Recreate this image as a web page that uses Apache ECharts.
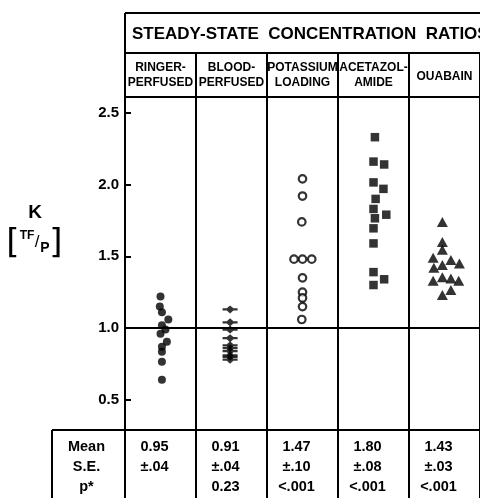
<!DOCTYPE html>
<html>
<head>
<meta charset="utf-8">
<script src="https://cdn.jsdelivr.net/npm/echarts@6/dist/echarts.min.js"></script>
<style>
html,body{margin:0;padding:0;background:#fff;}
#chart{width:480px;height:498px;}
</style>
</head>
<body>
<div id="chart"></div>
<script>
// ---- data ----
const title = 'STEADY-STATE  CONCENTRATION  RATIOS';
const categories = ['RINGER-\nPERFUSED', 'BLOOD-\nPERFUSED', 'POTASSIUM\nLOADING', 'ACETAZOL-\nAMIDE', 'OUABAIN'];
const yTicks = [0.5, 1.0, 1.5, 2.0, 2.5];

const ringerK  = [1.22, 1.15, 1.11, 1.06, 1.02, 0.99, 0.96, 0.905, 0.87, 0.835, 0.765, 0.64];
const ringerDx = [0.0, -0.01, 0.02, 0.11, 0.02, 0.07, 0.0, 0.09, 0.02, 0.02, 0.02, 0.02];

const bloodK  = [1.13, 1.04, 0.99, 0.93, 0.88, 0.86, 0.84, 0.81, 0.80, 0.78];
const bloodDx = [-0.02, -0.02, -0.02, -0.02, -0.02, -0.02, -0.02, -0.02, -0.02, -0.02];

const potassiumK  = [2.04, 1.92, 1.74, 1.48, 1.48, 1.48, 1.35, 1.25, 1.21, 1.15, 1.06];
const potassiumDx = [0.0, 0.0, -0.01, -0.12, 0.0, 0.13, 0.0, 0.0, 0.0, 0.0, -0.01];

const acetazolK  = [2.33, 2.16, 2.14, 2.015, 1.97, 1.90, 1.83, 1.79, 1.765, 1.695, 1.59, 1.39, 1.34, 1.30];
const acetazolDx = [0.02, 0.0, 0.15, 0.0, 0.14, 0.03, 0.0, 0.18, 0.02, 0.0, 0.0, 0.0, 0.15, 0.0];

const ouabainK  = [1.74, 1.60, 1.545, 1.49, 1.475, 1.45, 1.44, 1.42, 1.355, 1.345, 1.33, 1.33, 1.265, 1.23];
const ouabainDx = [-0.03, -0.03, -0.03, -0.16, 0.09, 0.21, -0.03, -0.15, -0.03, 0.09, -0.16, 0.2, 0.09, -0.03];

const meanRow = ['0.95', '0.91', '1.47', '1.80', '1.43'];
const seRow   = ['\u00b1.04', '\u00b1.04', '\u00b1.10', '\u00b1.08', '\u00b1.03'];
const pRow    = ['', '0.23', '<.001', '<.001', '<.001'];
const rowLabels = ['Mean', 'S.E.', 'p*'];

// ---- chart ----
const FONT = '"Liberation Sans", Arial, sans-serif';
const chart = echarts.init(document.getElementById('chart'), null, {renderer: 'canvas'});

function pts(vals, dx, col) {
  return vals.map((v, i) => [col - 0.5 + dx[i], v]);
}
const diamondDash = 'path://M0,3.6 L2.8,3.6 L5,0 L7.2,3.6 L10,3.6 L10,6.4 L7.2,6.4 L5,10 L2.8,6.4 L0,6.4 Z';

const option = {
  animation: false,
  backgroundColor: '#fff',
  grid: {left: 125, top: 97, width: 365, height: 333, containLabel: false},
  xAxis: {
    type: 'value', min: 0, max: 5, interval: 1,
    axisLine: {show: false}, axisTick: {show: false}, axisLabel: {show: false},
    splitLine: {show: true, lineStyle: {color: '#000', width: 2}}
  },
  yAxis: {
    type: 'value', min: 0.29, max: 2.61,
    axisLine: {show: true, lineStyle: {color: '#000', width: 2}},
    axisTick: {show: true, inside: true, length: 6, customValues: yTicks, lineStyle: {color: '#000', width: 2}},
    axisLabel: {show: true, customValues: yTicks, margin: 6, color: '#000', fontFamily: FONT, fontWeight: 'bold', fontSize: 15,
      formatter: v => v.toFixed(1)},
    splitLine: {show: false}
  },
  series: [
    {type: 'scatter', name: categories[0], data: pts(ringerK, ringerDx, 1), symbol: 'circle', symbolSize: 8,
      itemStyle: {color: '#000'},
      markLine: {silent: true, symbol: 'none', label: {show: false}, lineStyle: {color: '#000', width: 2, type: 'solid'},
        data: [{yAxis: 1.0}]}},
    {type: 'scatter', name: categories[1], data: pts(bloodK, bloodDx, 2), symbol: diamondDash, symbolSize: [15, 8],
      itemStyle: {color: '#000'}},
    {type: 'scatter', name: categories[2], data: pts(potassiumK, potassiumDx, 3), symbol: 'circle', symbolSize: 7.5,
      itemStyle: {color: '#fff', borderColor: '#000', borderWidth: 2.2}},
    {type: 'scatter', name: categories[3], data: pts(acetazolK, acetazolDx, 4), symbol: 'rect', symbolSize: 8.5,
      itemStyle: {color: '#000'}},
    {type: 'scatter', name: categories[4], data: pts(ouabainK, ouabainDx, 5), symbol: 'triangle', symbolSize: [11, 10],
      itemStyle: {color: '#000'}}
  ]
};
chart.setOption(option);

// ---- decorations (header box, y name, table) positioned from axis scale ----
const px = v => chart.convertToPixel({xAxisIndex: 0}, v);
const py = v => chart.convertToPixel({yAxisIndex: 0}, v);
const xL = px(0), xR = px(5);
const yTop = py(2.61), yBot = py(0.29);
const headTop = 13, headMid = 53, tableLeft = 52, pageBottom = 498;
const LW = 2;
const g = [];
function line(x1, y1, x2, y2) {
  g.push({type: 'line', shape: {x1, y1, x2, y2}, style: {stroke: '#000', lineWidth: LW}, silent: true});
}
function text(t, x, y, size, align, opts) {
  g.push({type: 'text', x, y, silent: true,
    style: Object.assign({text: t, fill: '#000', font: 'bold ' + size + 'px ' + FONT, align: align || 'center', verticalAlign: 'middle'}, opts || {})});
}
// header box
line(xL, headTop, xR, headTop);
line(xL, headMid, xR, headMid);
line(xL, yTop, xR, yTop);
line(xL, headTop, xL, yTop);
for (let i = 1; i <= 5; i++) line(px(i), headMid, px(i), yTop);
text(title, xL + 7, (headTop + headMid) / 2 + 1, 17, 'left');
categories.forEach((c, i) => {
  const cx = px(i + 0.5);
  const parts = c.split('\n');
  if (parts.length === 2) {
    text(parts[0], cx, 68, 12, 'center');
    text(parts[1], cx, 83, 12, 'center');
  } else {
    text(parts[0], cx, 77, 12, 'center');
  }
});
// table
line(tableLeft, yBot, xR, yBot);
line(tableLeft, yBot, tableLeft, pageBottom);
line(xL, yBot, xL, pageBottom);
for (let i = 1; i <= 5; i++) line(px(i), yBot, px(i), pageBottom);
const rowY = [447, 467, 487];
rowLabels.forEach((r, k) => text(r, (tableLeft + xL) / 2 - 2, rowY[k], 14.5, 'center'));
[meanRow, seRow, pRow].forEach((row, k) => {
  row.forEach((t, i) => { if (t) text(t, px(i + 0.5) - 6, rowY[k], 14.5, 'center'); });
});
// y axis name
text('K', 35, 213, 19, 'center');
text('[', 13, 244, 34, 'center', {font: 'normal 34px "DejaVu Sans", sans-serif'});
text(']', 56, 244, 34, 'center', {font: 'normal 34px "DejaVu Sans", sans-serif'});
text('TF', 27, 236, 12, 'center');
text('/', 37, 242, 17, 'center', {font: 'normal 17px ' + FONT});
text('P', 45, 248, 14, 'center');

chart.setOption({graphic: {elements: g}});
</script>
</body>
</html>
